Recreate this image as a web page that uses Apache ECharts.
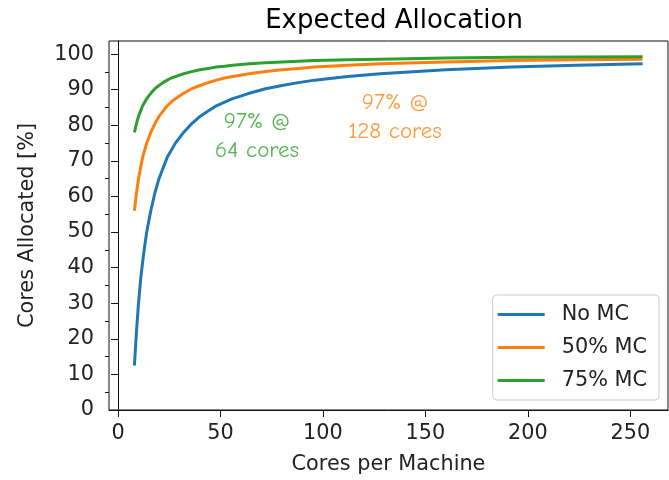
<!DOCTYPE html>
<html>
<head>
<meta charset="utf-8">
<script src="https://cdn.jsdelivr.net/npm/echarts@6/dist/echarts.min.js"></script>
<style>
  html, body { margin: 0; padding: 0; background: #fff; }
  #myChart { width: 669px; height: 480px; }
</style>
</head>
<body>
<div id="myChart"></div>
<script>
// cores per machine (x) and expected allocation (%)
var cores = [8, 9, 10, 11, 12, 13, 14, 16, 18, 20, 22, 24, 26, 28, 32, 36, 40, 44, 48, 52, 56, 64, 72, 80, 88, 96, 112, 128, 160, 192, 224, 256];
var noMC = [12.5, 22, 30, 36.5, 41.5, 46, 50, 56, 61, 65, 68, 71, 73, 75, 78, 80.5, 82.5, 84, 85.5, 86.5, 87.5, 89, 90.3, 91.2, 92, 92.7, 93.7, 94.5, 95.6, 96.4, 96.9, 97.3];
var mc50 = [56, 61, 65, 68, 71, 73, 75, 78, 80.5, 82.5, 84, 85.5, 86.5, 87.5, 89, 90.3, 91.2, 92, 92.7, 93.3, 93.7, 94.5, 95.1, 95.6, 96, 96.4, 96.9, 97.3, 97.8, 98.2, 98.4, 98.6];
var mc75 = [78, 80.5, 82.5, 84, 85.5, 86.5, 87.5, 89, 90.3, 91.2, 92, 92.7, 93.3, 93.7, 94.5, 95.1, 95.6, 96, 96.4, 96.6, 96.9, 97.3, 97.6, 97.8, 98, 98.2, 98.4, 98.6, 98.9, 99.1, 99.2, 99.3];

var xTicks = [0, 50, 100, 150, 200, 250];
var yTicks = [0, 10, 20, 30, 40, 50, 60, 70, 80, 90, 100];
var yMinorTicks = [5, 15, 25, 35, 45, 55, 65, 75, 85, 95];

// annotation anchors, in data units
var noteGreen = [67.8, 77.1];
var noteOrange = [135.2, 82.4];

var FONT = 'DejaVu Sans';
var HAND = '"Comic Sans MS", "Comic Neue", cursive';
var INK = '#222';

function pairs(xs, ys) {
    var out = [];
    for (var i = 0; i < xs.length; i++) {
        out.push([xs[i], ys[i]]);
    }
    return out;
}

function line_series(name, color, ys) {
    return {
        name: name,
        type: 'line',
        data: pairs(cores, ys),
        showSymbol: false,
        symbol: 'none',
        smooth: false,
        lineStyle: { color: color, width: 3 },
        itemStyle: { color: color },
        z: 3
    };
}

function note_series(coord, text, color) {
    return {
        type: 'scatter',
        data: [coord],
        symbolSize: 0,
        silent: true,
        label: {
            show: true,
            position: 'inside',
            formatter: text,
            color: color,
            fontFamily: HAND,
            fontSize: 23,
            lineHeight: 29,
            align: 'center'
        },
        z: 4
    };
}

var myChart = echarts.init(document.getElementById('myChart'));
var option = {
    animation: false,
    backgroundColor: '#fff',
    title: {
        text: 'Expected Allocation',
        left: 389,
        textAlign: 'center',
        top: 3,
        textStyle: { fontFamily: FONT, fontSize: 26, fontWeight: 'normal', color: '#000' }
    },
    grid: {
        left: 109,
        right: 1,
        top: 41,
        bottom: 68,
        show: true,
        borderColor: '#111',
        borderWidth: 1,
        backgroundColor: 'transparent'
    },
    legend: {
        data: ['No MC', '50% MC', '75% MC'],
        orient: 'vertical',
        right: 10,
        bottom: 80,
        icon: 'rect',
        itemWidth: 47,
        itemHeight: 3,
        itemGap: 12,
        padding: [9, 12, 9, 5],
        backgroundColor: 'rgba(255,255,255,0.8)',
        borderColor: '#cccccc',
        borderWidth: 1,
        borderRadius: 4,
        textStyle: { fontFamily: FONT, fontSize: 20.8, color: INK, padding: [0, 0, 0, 12] }
    },
    xAxis: {
        type: 'value',
        min: -4.4,
        max: 268.4,
        name: 'Cores per Machine',
        nameLocation: 'middle',
        nameGap: 44,
        nameTextStyle: { fontFamily: FONT, fontSize: 20.8, color: INK },
        axisLine: { show: true, lineStyle: { color: '#111' } },
        axisTick: { show: true, customValues: xTicks, length: 7, lineStyle: { color: '#111' } },
        axisLabel: { customValues: xTicks, fontFamily: FONT, fontSize: 20.8, color: INK, margin: 13 },
        splitLine: { show: false }
    },
    yAxis: [{
        type: 'value',
        min: 0,
        max: 103.7,
        name: 'Cores Allocated [%]',
        nameLocation: 'middle',
        nameGap: 71,
        nameTextStyle: { fontFamily: FONT, fontSize: 20.8, color: INK },
        axisLine: { show: true, lineStyle: { color: '#111' } },
        axisTick: { show: true, customValues: yTicks, length: 7, lineStyle: { color: '#111' } },
        axisLabel: { customValues: yTicks, fontFamily: FONT, fontSize: 20.8, color: INK, margin: 15 },
        splitLine: { show: false }
    }, {
        // minor ticks only
        type: 'value',
        position: 'left',
        min: 0,
        max: 103.7,
        axisLine: { show: false },
        axisTick: { show: true, customValues: yMinorTicks, length: 4, lineStyle: { color: '#111' } },
        axisLabel: { show: false, customValues: yMinorTicks },
        splitLine: { show: false }
    }],
    series: [
        line_series('No MC', '#1f77b4', noMC),
        line_series('50% MC', '#ff7f0e', mc50),
        line_series('75% MC', '#2ca02c', mc75),
        note_series(noteGreen, '97% @\n64 cores', '#2ca02c'),
        note_series(noteOrange, '97% @\n128 cores', '#ff7f0e')
    ]
};
myChart.setOption(option);
</script>
</body>
</html>
